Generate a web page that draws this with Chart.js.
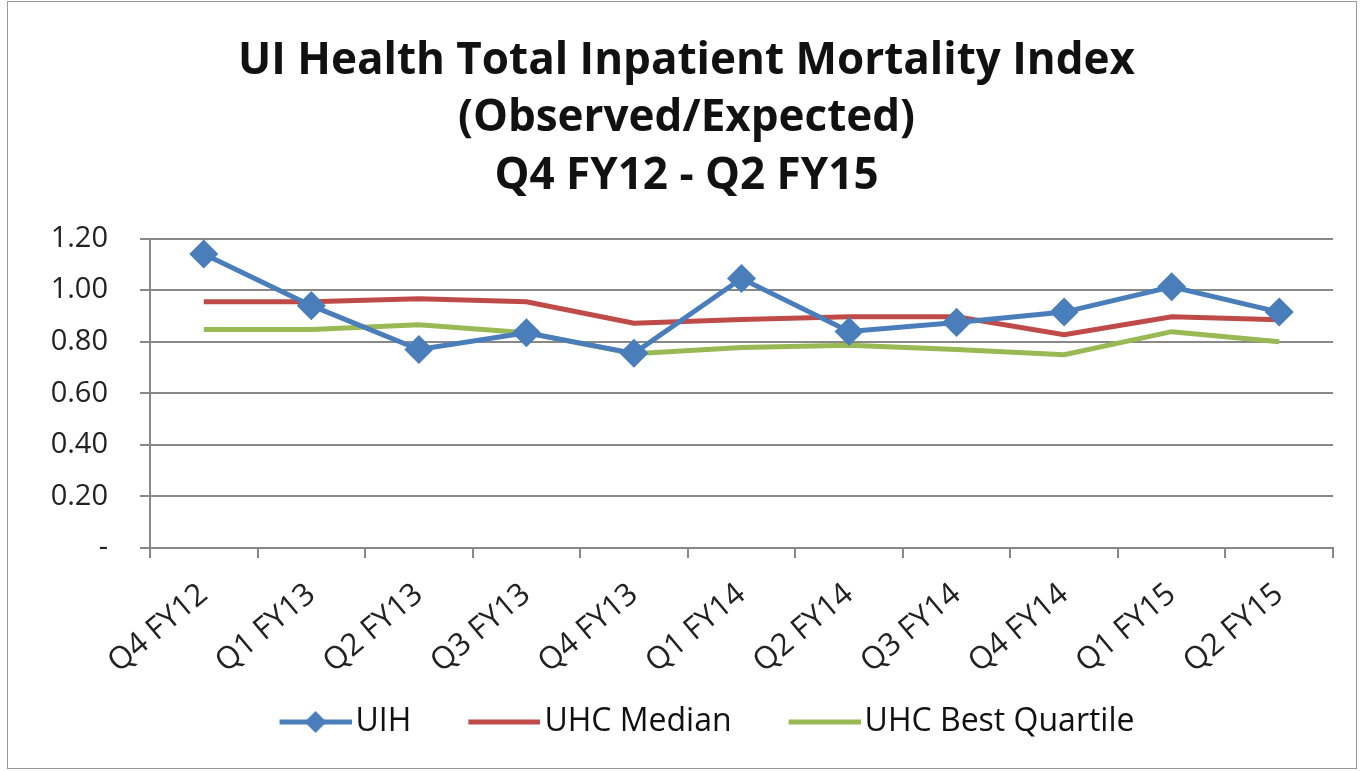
<!DOCTYPE html>
<html>
<head>
<meta charset="utf-8">
<script src="https://cdn.jsdelivr.net/npm/chart.js@4"></script>
<style>
html,body{margin:0;padding:0;background:#fff;overflow:hidden;}
#c{position:absolute;left:0;top:0;display:block;}
#frame{position:absolute;left:7px;top:1px;width:1350px;height:768px;border:1.5px solid #9a9a9a;box-sizing:border-box;pointer-events:none;}
</style>
</head>
<body>
<canvas id="c" width="1360" height="771"></canvas>
<div id="frame"></div>
<script>
const categories = ["Q4 FY12","Q1 FY13","Q2 FY13","Q3 FY13","Q4 FY13","Q1 FY14","Q2 FY14","Q3 FY14","Q4 FY14","Q1 FY15","Q2 FY15"];
const uih = [1.14, 0.94, 0.77, 0.835, 0.755, 1.045, 0.84, 0.875, 0.915, 1.013, 0.915];
const uhcMedian = [0.955, 0.955, 0.967, 0.955, 0.872, 0.886, 0.897, 0.897, 0.827, 0.897, 0.885];
const uhcBest = [0.847, 0.847, 0.866, 0.835, 0.753, 0.778, 0.786, 0.77, 0.75, 0.839, 0.80];
const titleLines = ["UI Health Total Inpatient Mortality Index","(Observed/Expected)","Q4 FY12 - Q2 FY15"];

const FONT = "'Open Sans', 'Liberation Sans', sans-serif";
Chart.defaults.font.family = FONT;
Chart.defaults.color = "#222";

const colors = ['#4A7EBB','#BE4B48','#98B954'];
function legendIcon(color, diamond){
  const L = 53, W = 125;
  const c = document.createElement('canvas');
  c.width = W; c.height = 30;
  const g = c.getContext('2d');
  g.strokeStyle = color; g.lineWidth = 5;
  g.beginPath(); g.moveTo(L,15); g.lineTo(W,15); g.stroke();
  if (diamond){
    const cx = L + 36;
    g.fillStyle = color;
    g.beginPath(); g.moveTo(cx,4); g.lineTo(cx+11,15); g.lineTo(cx,26); g.lineTo(cx-11,15); g.closePath(); g.fill();
  }
  return c;
}
const icons = [legendIcon(colors[0], true), legendIcon(colors[1], false), legendIcon(colors[2], false)];

new Chart(document.getElementById('c'), {
  type: 'line',
  data: {
    labels: categories,
    datasets: [
      {label:'UIH', data: uih, borderColor:colors[0], backgroundColor:colors[0], borderWidth:5, pointStyle:'rectRot', pointRadius:11, pointHoverRadius:11, tension:0},
      {label:'UHC Median', data: uhcMedian, borderColor:colors[1], backgroundColor:colors[1], borderWidth:5, pointRadius:0, tension:0},
      {label:'UHC Best Quartile', data: uhcBest, borderColor:colors[2], backgroundColor:colors[2], borderWidth:5, pointRadius:0, tension:0}
    ]
  },
  options: {
    responsive:false,
    animation:false,
    layout:{padding:{left:40,right:27,top:0,bottom:23}},
    plugins:{
      title:{display:true, text:titleLines, font:{size:44, weight:'bold', family:FONT, lineHeight:1.3}, color:'#111', padding:{top:33,bottom:34}},
      legend:{position:'bottom', labels:{font:{size:32}, color:'#111', usePointStyle:true, pointStyleWidth:101, boxHeight:32, padding:16,
        generateLabels:(chart)=>{
          const items = Chart.defaults.plugins.legend.labels.generateLabels(chart);
          items.forEach((it,i)=>{ it.pointStyle = icons[i]; });
          return items;
        }}},
      tooltip:{enabled:false}
    },
    scales:{
      x:{
        offset:true,
        afterFit:(axis)=>{ axis.height = 142; },
        grid:{display:true, drawOnChartArea:false, drawTicks:true, tickLength:10, color:'#888', lineWidth:2, offset:true},
        border:{display:true, color:'#888', width:2},
        ticks:{font:{size:31}, color:'#222', maxRotation:40, minRotation:40, padding:18, autoSkip:false}
      },
      y:{
        min:0, max:1.2,
        afterFit:(axis)=>{ axis.width = 110; },
        ticks:{stepSize:0.2, font:{size:29}, color:'#222', padding:32, callback:(v)=> v===0 ? '-' : v.toFixed(2)},
        grid:{color:'#888', lineWidth:2, drawTicks:true, tickLength:10},
        border:{display:true, color:'#888', width:2}
      }
    }
  }
});
</script>
</body>
</html>
